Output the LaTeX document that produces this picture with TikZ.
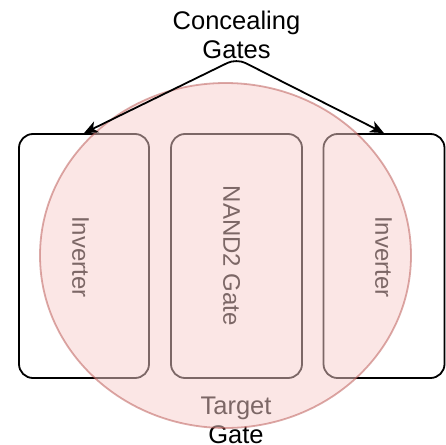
\documentclass[tikz,border=0pt]{standalone}
\usepackage{fontspec}
\setmainfont{Liberation Sans}
\usetikzlibrary{arrows.meta,shapes.geometric}
\definecolor{tgfill}{HTML}{F8CECC}
\definecolor{tgdraw}{HTML}{B85450}
\begin{document}
\begin{tikzpicture}[x=1pt,y=-1pt,
  lbl/.style={font=\fontsize{24}{28.8}\selectfont, inner sep=0pt, align=center},
  hlbl/.style={font=\fontsize{25.5}{29}\selectfont, inner sep=0pt, align=center},
  gatebox/.style={draw=black, line width=1.8pt, rounded corners=14pt, minimum height=244pt, inner sep=0pt},
  arr/.style={line width=1.8pt, rounded corners=10pt, {Stealth[length=14pt,width=12pt,inset=4pt]}-{Stealth[length=14pt,width=12pt,inset=4pt]}},
  target/.style={ellipse, fill=tgfill, fill opacity=0.5, draw=tgdraw, draw opacity=0.5, line width=1.8pt, minimum width=371pt, minimum height=345pt, inner sep=0pt}
]
\useasboundingbox (0,0) rectangle (446,444);
% boxes
\node[gatebox, minimum width=130pt] (L) at (84,256) {};
\node[gatebox, minimum width=131pt] (M) at (236.5,256) {};
\node[gatebox, minimum width=121pt] (R) at (384,256) {};
% rotated labels
\node[lbl, rotate=-90] (Lt) at (80.6,257) {Inverter};
\node[lbl, rotate=-90] (Mt) at (231.6,256) {NAND2 Gate};
\node[lbl, rotate=-90] (Rt) at (383.6,257) {Inverter};
% texts
\node[hlbl, anchor=south] (cg) at (236.5,58.5) {Concealing\\Gates};
\node[hlbl, anchor=north] (tgt) at (236,396.5) {Target\\Gate};
% target ellipse
\node[target] (E) at (225.5,255.5) {};
% arrows
\draw[arr] (L.north) -- (cg.south) -- (R.north);
\end{tikzpicture}
\end{document}
